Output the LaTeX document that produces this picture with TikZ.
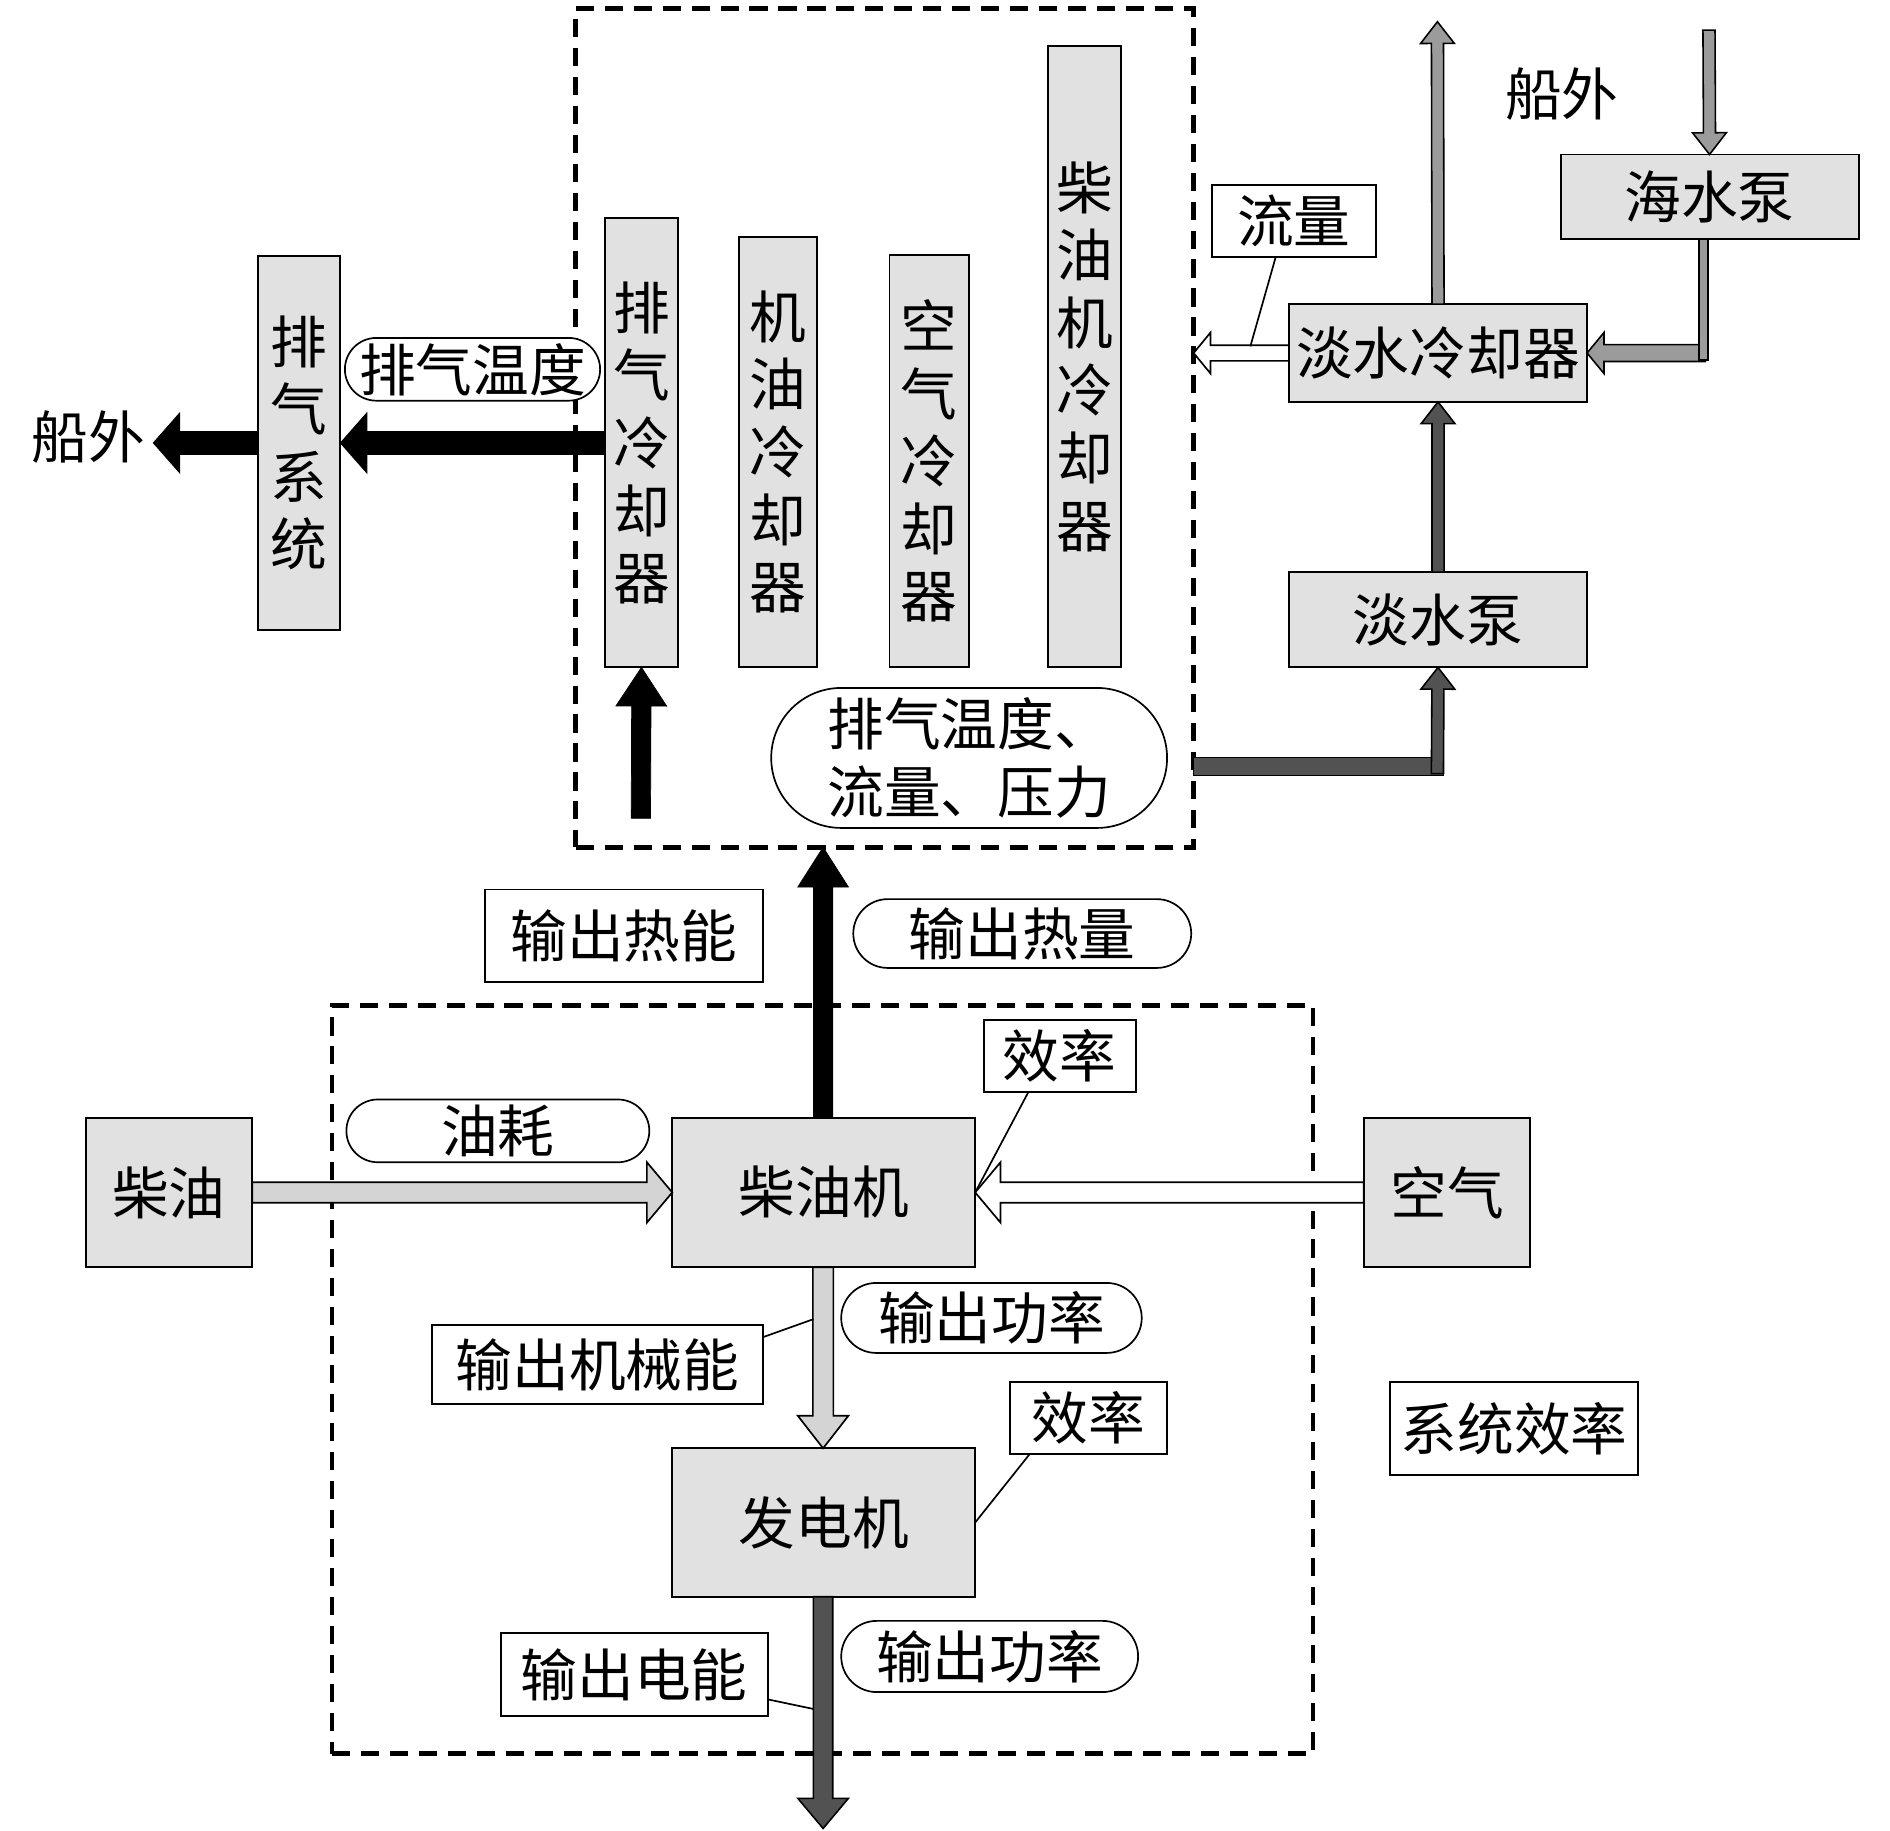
\documentclass[tikz,border=0pt]{standalone}
\usepackage{fontspec}
\newfontfamily\cjk{Noto Sans CJK SC}
\usetikzlibrary{calc,shapes.misc}
\definecolor{boxgray}{RGB}{225,225,225}
\definecolor{lightarr}{RGB}{212,212,212}
\definecolor{midgray}{RGB}{155,155,155}
\definecolor{darkarr}{RGB}{82,82,82}
% #1 options, #2 from, #3 to, #4 half shaft, #5 half head, #6 head length
\newcommand\blockarrow[6]{%
  \draw[#1] let \p1=(#2), \p2=(#3),
    \n1={veclen(\x2-\x1,\y2-\y1)},
    \n2={(\x2-\x1)/\n1}, \n3={(\y2-\y1)/\n1} in
    ({\x1-(\n3)*#4}, {\y1+(\n2)*#4})
    -- ({\x2-(\n2)*#6-(\n3)*#4}, {\y2-(\n3)*#6+(\n2)*#4})
    -- ({\x2-(\n2)*#6-(\n3)*#5}, {\y2-(\n3)*#6+(\n2)*#5})
    -- (\p2)
    -- ({\x2-(\n2)*#6+(\n3)*#5}, {\y2-(\n3)*#6-(\n2)*#5})
    -- ({\x2-(\n2)*#6+(\n3)*#4}, {\y2-(\n3)*#6-(\n2)*#4})
    -- ({\x1+(\n3)*#4}, {\y1-(\n2)*#4}) -- cycle;}
\begin{document}
\begin{tikzpicture}[x=1pt,y=-1pt,
  every node/.style={font=\cjk\fontsize{47}{56}\selectfont, inner sep=0pt, outer sep=0pt, align=center},
  box/.style={draw, fill=boxgray, line width=1.6pt},
  wbox/.style={draw, fill=white, line width=1.6pt},
  pill/.style={draw, rounded rectangle, fill=white, line width=1.4pt},
  frame/.style={draw, line width=3.8pt, dash pattern=on 15pt off 9pt},
  callout/.style={line width=1.4pt},
  bk/.style={fill=black, draw=black, line width=0.6pt},
  lg/.style={fill=lightarr, draw=black, line width=1.4pt},
  wh/.style={fill=white, draw=black, line width=1.4pt},
  mg/.style={fill=midgray, draw=black, line width=1.3pt},
  dg/.style={fill=darkarr, draw=black, line width=1.3pt}]
\useasboundingbox (0,0) rectangle (1566,1517);

% dashed frames
\node[frame, minimum width=512pt, minimum height=695pt] (upper) at (733,354.5) {};
\node[frame, minimum width=813pt, minimum height=620pt] (lower) at (681.5,1143) {};

% upper group
\node[box, minimum width=68pt, minimum height=310pt] (sys) at (248,367) {排\\气\\系\\统};
\node[box, minimum width=61pt, minimum height=372pt] (exc) at (531.5,367) {排\\气\\冷\\却\\器};
\node[box, minimum width=65pt, minimum height=357pt] (oil) at (644.5,374.5) {机\\油\\冷\\却\\器};
\node[box, minimum width=66pt, minimum height=342pt] (aircool) at (770,382) {空\\气\\冷\\却\\器};
\node[box, minimum width=61pt, minimum height=515pt] (dcool) at (898.5,295.5) {柴\\油\\机\\冷\\却\\器};
\node (outL) at (73,362) {船外};
\coordinate (outLtip) at (127,367);
\coordinate (hotin) at (531,678);

\blockarrow{bk}{exc.west}{sys.east}{9.5}{25}{22}
\blockarrow{bk}{sys.west}{outLtip}{9.5}{25}{22}
\blockarrow{bk}{hotin}{exc.south}{8}{21}{32}

\node[pill, minimum width=211pt, minimum height=52pt] (lblT) at (391.5,306) {排气温度};
\node[pill, minimum width=328pt, minimum height=116pt] (lblTFP) at (803,628) {排气温度、\\流量、压力};

% right side water circuit
\node[box, minimum width=247pt, minimum height=81pt] (fwc) at (1191.5,292.5) {淡水冷却器};
\node[box, minimum width=247pt, minimum height=79pt] (fwp) at (1191.5,513.5) {淡水泵};
\node[box, minimum width=247pt, minimum height=70pt] (swp) at (1416.5,163) {海水泵};
\node[wbox, minimum width=136pt, minimum height=60pt] (flow) at (1072,183) {流量};
\node (outR) at (1294,78) {船外};

\coordinate (flowend) at (989,292.5);
\coordinate (topout) at (1191,18);
\coordinate (seain) at (1416,25);
\coordinate (corner1) at (1413,292.5);
\coordinate (hotout) at (989,635);
\coordinate (corner2) at (1191,635);

\blockarrow{wh}{fwc.west}{flowend}{6.5}{17}{14}
\blockarrow{mg}{fwc.north}{topout}{5}{14}{18}
\blockarrow{mg}{seain}{swp.north}{5}{14}{18}
\blockarrow{mg}{corner1}{fwc.east}{7}{17}{14}
\draw[mg] ($(swp.south)+(-9,0)$) rectangle ($(corner1)+(2,6)$);
\blockarrow{dg}{fwp.north}{fwc.south}{5}{14}{18}
\draw[dg] ($(hotout)+(0,-7.5)$) rectangle ($(corner2)+(5,7.5)$);
\blockarrow{dg}{$(corner2)+(0,6)$}{fwp.south}{5}{14}{18}

\draw[callout] ($(flow.south west)+(53,0)$) -- (1036,287);

% middle labels
\node[wbox, minimum width=230pt, minimum height=77pt] (heatE) at (517,775.5) {输出热能};
\node[pill, minimum width=280pt, minimum height=57pt] (heatQ) at (847,773.5) {输出热量};

% lower group
\node[box, minimum width=138pt, minimum height=124pt] (fuel) at (140,988) {柴油};
\node[box, minimum width=251pt, minimum height=124pt] (eng) at (682.5,988) {柴油机};
\node[box, minimum width=138pt, minimum height=124pt] (air) at (1199,988) {空气};
\node[box, minimum width=251pt, minimum height=123pt] (gen) at (682.5,1261.5) {发电机};
\node[pill, minimum width=251pt, minimum height=52pt] (cons) at (412.5,937) {油耗};
\node[wbox, minimum width=126pt, minimum height=60pt] (eff1) at (878,875) {效率};
\node[wbox, minimum width=130pt, minimum height=60pt] (eff2) at (902,1175) {效率};
\node[wbox, minimum width=205pt, minimum height=77pt] (syseff) at (1254.5,1183.5) {系统效率};
\node[pill, minimum width=249pt, minimum height=58pt] (pow1) at (821.5,1092) {输出功率};
\node[pill, minimum width=246pt, minimum height=59pt] (pow2) at (820,1372.5) {输出功率};

\coordinate (heatup) at (682,702);
\coordinate (elecout) at (682,1515);
\blockarrow{bk}{eng.north -| heatup}{heatup}{8}{21}{33}
\blockarrow{lg}{fuel.east}{eng.west}{8.5}{25}{21}
\blockarrow{wh}{air.west}{eng.east}{8.5}{25}{21}
\blockarrow{lg}{eng.south -| heatup}{gen.north -| heatup}{8.5}{21}{27}
\blockarrow{dg}{gen.south -| heatup}{elecout}{8}{21}{25}

\node[wbox, minimum width=274pt, minimum height=65pt] (mechE) at (495,1130.5) {输出机械能};
\node[wbox, minimum width=221pt, minimum height=69pt] (elecE) at (525.5,1387.5) {输出电能};

\draw[callout] ($(eff1.south west)+(37,0)$) -- (eng.east);
\draw[callout] ($(eff2.south west)+(16,0)$) -- (gen.east);
\draw[callout] ($(mechE.north east)+(0,10)$) -- (674,1093);
\draw[callout] ($(elecE.south east)+(0,-14)$) -- (674,1416);
\end{tikzpicture}
\end{document}
